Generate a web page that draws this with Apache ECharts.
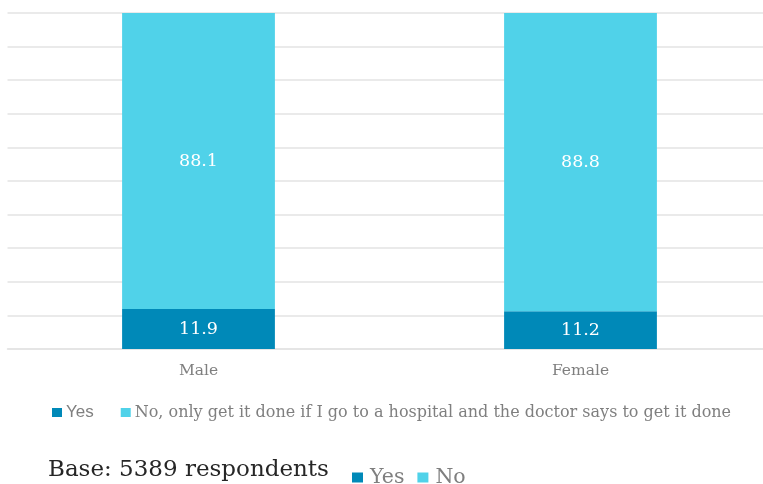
<!DOCTYPE html>
<html>
<head>
<meta charset="utf-8">
<script src="https://cdn.jsdelivr.net/npm/echarts@6/dist/echarts.min.js"></script>
<style>
  html, body { margin: 0; padding: 0; background: #fff; }
  #chart { width: 763px; height: 484px; }
</style>
</head>
<body>
<div id="chart"></div>
<script>
// Share of respondents by gender
const categories = ['Male', 'Female'];
const yesValues = [11.9, 11.2];
const noValues = [88.1, 88.8];
const yesName = 'Yes';
const noName = 'No, only get it done if I go to a hospital and the doctor says to get it done';
const shortNoName = 'No';
const baseText = 'Base: 5389 respondents';

const YES_COLOR = '#0089b8';
const NO_COLOR = '#50d2e9';
const SERIF = '"DejaVu Serif", serif';

const chart = echarts.init(document.getElementById('chart'), null, { renderer: 'canvas' });

const barLabel = {
  show: true,
  position: 'inside',
  color: '#ffffff',
  fontFamily: SERIF,
  fontSize: 17.5,
  formatter: p => p.value.toFixed(1)
};

chart.setOption({
  animation: false,
  backgroundColor: '#ffffff',
  title: {
    text: baseText,
    left: 43,
    top: 454,
    textStyle: { fontFamily: SERIF, fontSize: 23, fontWeight: 'normal', color: '#262626' }
  },
  legend: [
    {
      left: 47,
      top: 399,
      itemWidth: 10,
      itemHeight: 9,
      itemGap: 27,
      selectedMode: false,
      icon: 'rect',
      textStyle: { fontFamily: SERIF, fontSize: 16, color: '#7f7f7f', padding: [0, 0, 0, -1] },
      data: [
        { name: yesName, textStyle: { fontFamily: '"Liberation Sans", sans-serif', fontSize: 17, color: '#7f7f7f' } },
        { name: noName }
      ]
    },
    {
      left: 347,
      top: 462,
      itemWidth: 11,
      itemHeight: 10,
      itemGap: 13,
      selectedMode: false,
      icon: 'rect',
      textStyle: { fontFamily: SERIF, fontSize: 20.5, color: '#7f7f7f', padding: [0, 0, 0, 2] },
      data: [yesName, shortNoName]
    }
  ],
  grid: { left: 7.5, top: 13, width: 764, height: 336, outerBoundsMode: 'none', containLabel: false },
  xAxis: {
    type: 'category',
    data: categories,
    axisLine: { show: true, lineStyle: { color: '#e3e3e3', width: 1.5 } },
    axisTick: { show: false },
    axisLabel: { fontFamily: SERIF, fontSize: 15.5, color: '#7f7f7f', margin: 14 }
  },
  yAxis: {
    type: 'value',
    min: 0,
    max: 100,
    interval: 10,
    axisLabel: { show: false },
    axisLine: { show: false },
    axisTick: { show: false },
    splitLine: { lineStyle: { color: '#e3e3e3', width: 1.5 } }
  },
  series: [
    {
      name: yesName,
      type: 'bar',
      stack: 'total',
      barWidth: '40%',
      data: yesValues,
      itemStyle: { color: YES_COLOR },
      label: barLabel
    },
    {
      name: noName,
      type: 'bar',
      stack: 'total',
      barWidth: '40%',
      data: noValues,
      itemStyle: { color: NO_COLOR },
      label: barLabel
    },
    {
      // legend-only entry for the short "No" key
      name: shortNoName,
      type: 'bar',
      stack: 'total',
      barWidth: '40%',
      data: [],
      itemStyle: { color: NO_COLOR }
    }
  ]
});
</script>
</body>
</html>
